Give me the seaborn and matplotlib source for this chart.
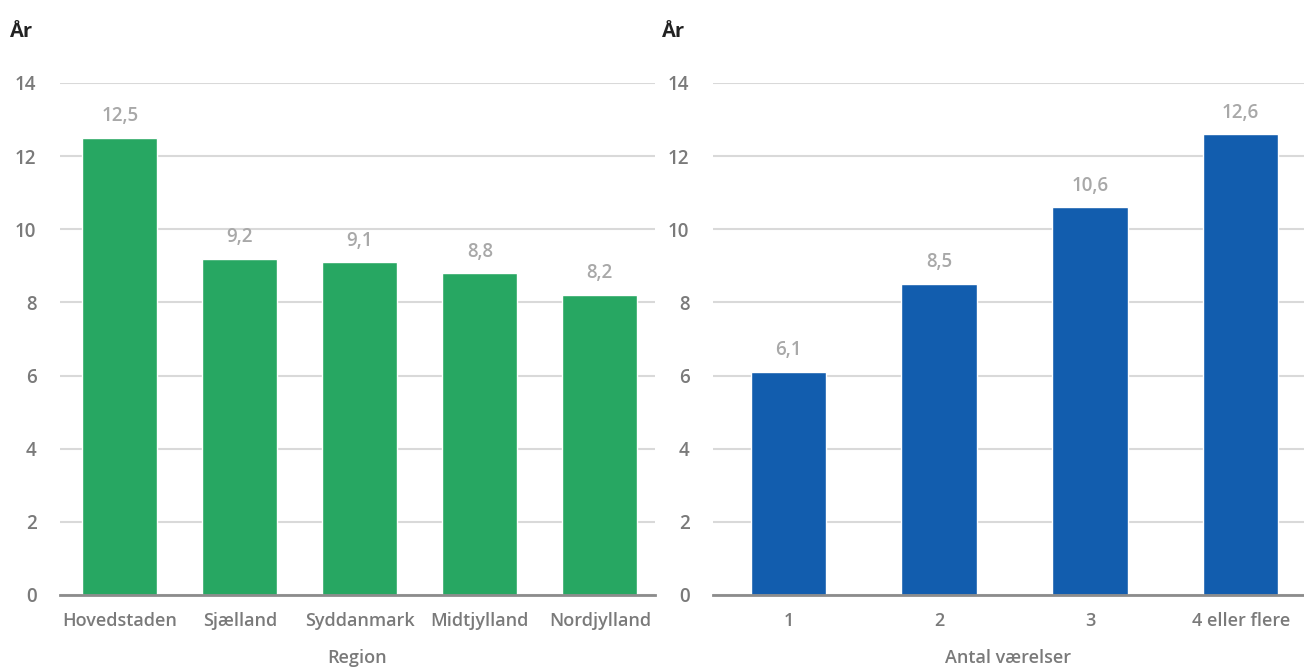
import matplotlib
matplotlib.use("Agg")
import matplotlib.pyplot as plt
from matplotlib import font_manager
import seaborn as sns
import pandas as pd

# Average years, by region and by number of rooms
regions = ["Hovedstaden", "Sjælland", "Syddanmark", "Midtjylland", "Nordjylland"]
region_years = [12.5, 9.2, 9.1, 8.8, 8.2]

rooms = ["1", "2", "3", "4 eller flere"]
room_years = [6.1, 8.5, 10.6, 12.6]

y_ticks = [0, 2, 4, 6, 8, 10, 12, 14]
y_label = "År"
region_axis_title = "Region"
rooms_axis_title = "Antal værelser"

GREEN = "#27A762"
BLUE = "#125DAE"
GRID = "#D9D9D9"
BASE = "#8C8C8C"
TICK = "#7A7A7A"
VALUE = "#A8A8A8"
TITLE = "#222222"

sns.set_theme(style="white")
plt.rcParams["font.family"] = ["Open Sans", "DejaVu Sans"]

# Prefer a real SemiBold face of Open Sans if one is installed
semi_file = None
for f in font_manager.fontManager.ttflist:
    if f.name == "Open Sans" and "semibold" in f.fname.lower().replace("-", "").replace("_", "") \
            and "italic" not in f.fname.lower():
        semi_file = f.fname
        break


def semi(size):
    if semi_file:
        return font_manager.FontProperties(fname=semi_file, size=size)
    return font_manager.FontProperties(family="Open Sans", weight="bold", size=size)


fig = plt.figure(figsize=(13.04, 6.70), dpi=100)
ax1 = fig.add_axes([60 / 1304, 1 - 595 / 670, 595 / 1304, 512 / 670])
ax2 = fig.add_axes([713 / 1304, 1 - 595 / 670, 591 / 1304, 512 / 670])

df1 = pd.DataFrame({"cat": regions, "val": region_years})
df2 = pd.DataFrame({"cat": rooms, "val": room_years})

sns.barplot(data=df1, x="cat", y="val", color=GREEN, width=0.625,
            saturation=1, ax=ax1)
sns.barplot(data=df2, x="cat", y="val", color=BLUE, width=0.5,
            saturation=1, ax=ax2)


def style(ax, labels, values, xmax, xtitle):
    ax.set_ylim(0, 14)
    ax.set_xlim(-0.5, xmax)
    ax.set_yticks(y_ticks)
    ax.set_yticklabels([str(t) for t in y_ticks], fontproperties=semi(13.5))
    ax.set_xticks(range(len(labels)))
    ax.set_xticklabels(labels, fontproperties=semi(13))
    for s in ["top", "right", "left"]:
        ax.spines[s].set_visible(False)
    ax.spines["bottom"].set_color(BASE)
    ax.spines["bottom"].set_linewidth(2)
    ax.yaxis.grid(True, color=GRID, linewidth=1.5)
    ax.xaxis.grid(False)
    ax.set_axisbelow(True)
    ax.tick_params(axis="y", length=0, pad=17, labelcolor=TICK)
    ax.tick_params(axis="x", length=0, pad=12, labelcolor=TICK)
    ax.set_xlabel(xtitle, fontproperties=semi(13), color=TICK, labelpad=14)
    ax.set_ylabel("")
    for i, v in enumerate(values):
        ax.annotate(f"{v:.1f}".replace(".", ","), (i, v),
                    xytext=(0, 12), textcoords="offset points",
                    ha="center", va="baseline", fontproperties=semi(13.5),
                    color=VALUE)


style(ax1, regions, region_years, 4.46, region_axis_title)
style(ax2, rooms, room_years, 3.42, rooms_axis_title)

fig.text(10 / 1304, 1 - 32 / 670, y_label, fontsize=14.5, color=TITLE,
         fontweight="bold", ha="left", va="center")
fig.text(662 / 1304, 1 - 32 / 670, y_label, fontsize=14.5, color=TITLE,
         fontweight="bold", ha="left", va="center")

fig.savefig("out.png", dpi=100)
